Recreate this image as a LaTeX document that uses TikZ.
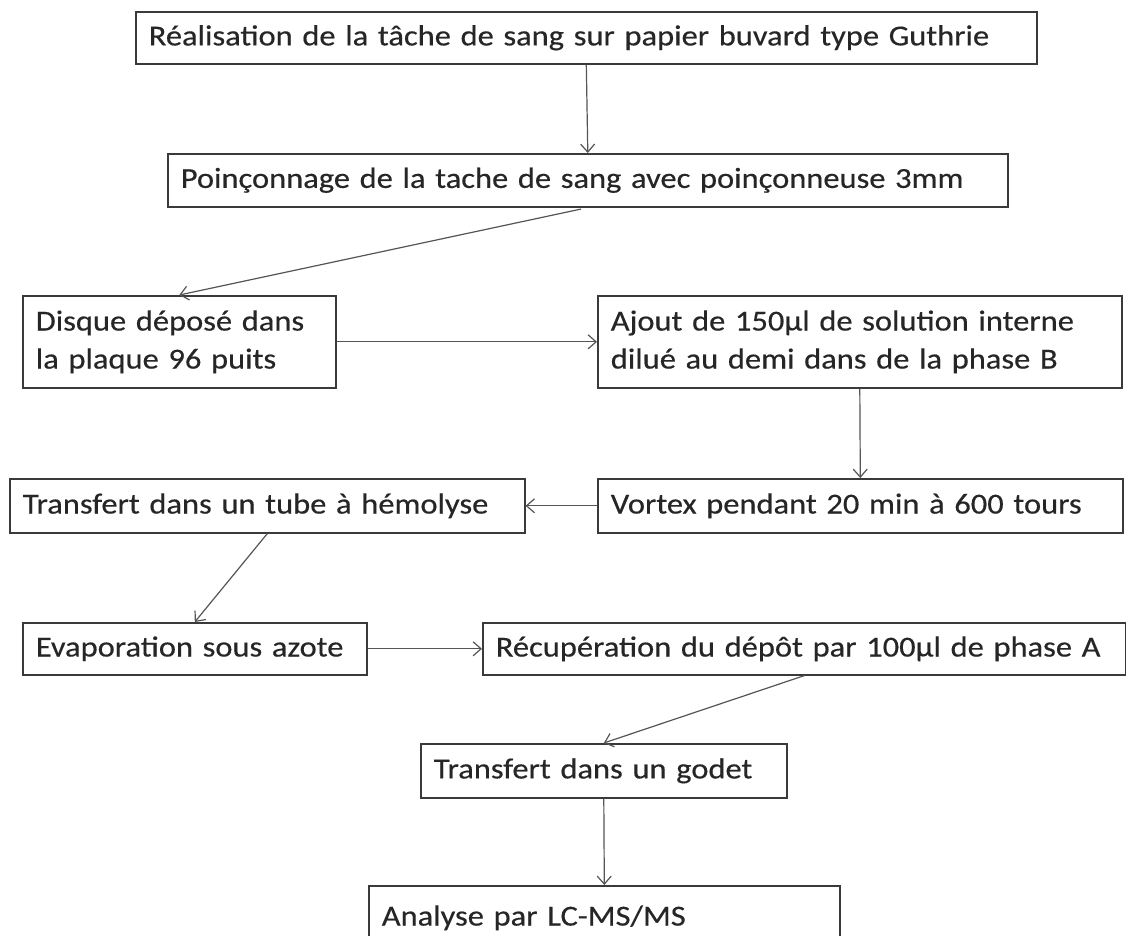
\documentclass[tikz,border=0pt]{standalone}
\usepackage{fontspec}
\setmainfont{Carlito}[FakeStretch=1.12,WordSpace=0.8,FakeBold=0.4]
\usetikzlibrary{arrows.meta}
\definecolor{boxc}{HTML}{3A3A3A}
\definecolor{arrc}{HTML}{555555}
\definecolor{txtc}{HTML}{262626}
\newcommand{\boxfont}{\fontsize{29}{38}\selectfont}
\tikzset{
  stepbox/.style={draw=boxc, line width=1.6pt, anchor=north west, inner xsep=13pt, inner ysep=0pt,
    align=left, font=\boxfont, text=txtc},
  arr/.style={draw=arrc, line width=1.2pt, -{Straight Barb[length=8pt,width=14pt,line width=1.2pt]}}
}
\begin{document}
\begin{tikzpicture}[x=1pt,y=-1pt]
\clip (0,0) rectangle (1126,935);
\fill[white] (0,0) rectangle (1126,935);
\node[stepbox, text width=875pt, minimum height=52pt, inner xsep=13pt] (b1) at (135,11) {Réalisation de la tâche de sang sur papier buvard type Guthrie};
\node[stepbox, text width=814pt, minimum height=53pt] (b2) at (167,153) {Poinçonnage de la tache de sang avec poinçonneuse 3mm};
\node[stepbox, text width=287pt, minimum height=92pt] (b3) at (22,295) {Disque déposé dans\\la plaque 96 puits};
\node[stepbox, text width=498pt, minimum height=92pt] (b4) at (597,295) {Ajout de 150µl de solution interne\\dilué au demi dans de la phase B};
\node[stepbox, text width=499pt, minimum height=54pt] (b5) at (597,478) {Vortex pendant 20 min à 600 tours};
\node[stepbox, text width=489pt, minimum height=54pt] (b6) at (9,478) {Transfert dans un tube à hémolyse};
\node[stepbox, text width=318pt, minimum height=52pt] (b7) at (22,622) {Evaporation sous azote};
\node[stepbox, text width=617pt, minimum height=52pt] (b8) at (482,622) {Récupération du dépôt par 100µl de phase A};
\node[stepbox, text width=340pt, minimum height=54pt] (b9) at (420,743) {Transfert dans un godet};
\node[stepbox, text width=445pt, minimum height=64pt] (b10) at (368,885) {Analyse par LC-MS/MS\\[-8pt]};
\draw[arr] (b1.south) -- (b2.north);
\draw[arr, shorten <=7pt] (b2.south) -- (b3.north);
\draw[arr] (b3.east) -- (b4.west);
\draw[arr] (b4.south) -- (b5.north);
\draw[arr] (b5.west) -- (b6.east);
\draw[arr] (b6.south) -- (b7.north);
\draw[arr] (b7.east) -- (b8.west);
\draw[arr] (b8.south) -- (b9.north);
\draw[arr] (b9.south) -- (b10.north);
\end{tikzpicture}
\end{document}
